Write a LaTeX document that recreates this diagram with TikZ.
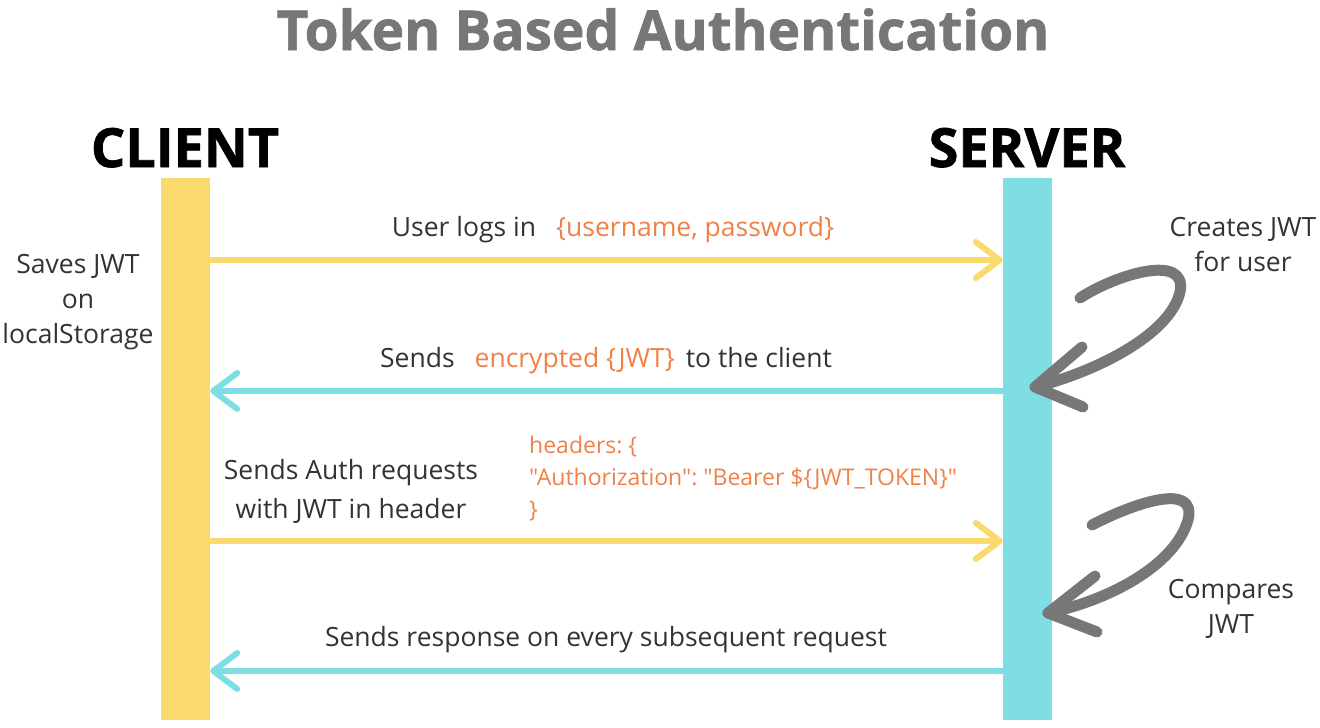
\documentclass[tikz,border=0pt]{standalone}
\usepackage{fontspec}
\setmainfont{Open Sans}
\newfontfamily\codefont{Open Sans}[Ligatures=TeXOff]
\newfontfamily\heavyfont{Open Sans}[BoldFeatures={FakeBold=1.2}]
\usetikzlibrary{arrows.meta}
\definecolor{cyel}{HTML}{FADA6E}
\definecolor{ccyan}{HTML}{7FDEE4}
\definecolor{corange}{HTML}{EF8148}
\definecolor{ctitle}{HTML}{777777}
\definecolor{ctext}{HTML}{333333}
\definecolor{ccurve}{HTML}{777777}
\begin{document}
\begin{tikzpicture}[x=1pt,y=-1pt,
  bar/.style={minimum width=49pt, minimum height=542pt, inner sep=0pt, draw=none, anchor=north},
  msg/.style={line width=6pt, -{Straight Barb[length=24pt,width=36pt,round]}},
  lbl/.style={font=\fontsize{26.5}{35}\selectfont, text=ctext, inner sep=0pt, align=center},
  code/.style={font=\codefont\frenchspacing\fontsize{23}{32}\selectfont, text=corange, inner sep=0pt, align=left},
  head/.style={font=\heavyfont\fontsize{54}{60}\selectfont\bfseries, text=black, inner sep=0pt},
  curve/.style={line width=11pt, draw=ccurve, line cap=round, line join=round}]
\path[use as bounding box] (0,0) rectangle (1320,728);
% title
\node[font=\heavyfont\fontsize{55}{60}\selectfont\bfseries, text=ctitle, inner sep=0pt, anchor=base] (title) at (663,50) {Token Based Authentication};
% headers
\node[head, anchor=base] (client) at (185,167) {CLIENT};
\node[head, anchor=base] (server) at (1027,167) {SERVER};
% bars
\node[fill=cyel, bar] (cbar) at (185.5,178) {};
\node[fill=ccyan, bar] (sbar) at (1027.5,178) {};
% rows
\coordinate (r1) at (0,260);
\coordinate (r2) at (0,391);
\coordinate (r3) at (0,541);
\coordinate (r4) at (0,671);
\draw[msg, cyel] (cbar.east |- r1) -- (sbar.west |- r1);
\draw[msg, ccyan] (sbar.west |- r2) -- (cbar.east |- r2);
\draw[msg, cyel] (cbar.east |- r3) -- (sbar.west |- r3);
\draw[msg, ccyan] (sbar.west |- r4) -- (cbar.east |- r4);
% labels
\node[lbl, anchor=base] (l1) at (613,236) {User logs in\hspace{20pt}{\color{corange}\{username, password\}}};
\node[lbl, anchor=base] (l2) at (606,367) {Sends\hspace{20pt}{\color{corange}encrypted \{JWT\}}\hspace{4pt} to the client};
\node[lbl, font=\fontsize{26.5}{39}\selectfont] (l3) at (351,491) {Sends Auth requests\\with JWT in header};
\node[code, anchor=north west] (l3c) at (529,436) {headers: \{\\"Authorization": "Bearer \$\{JWT\_TOKEN\}"\\\}};
\node[lbl, anchor=base] (l4) at (606,646) {Sends response on every subsequent request};
\node[lbl] (save) at (78,302) {Saves JWT\\on\\localStorage};
\node[lbl] (create) at (1243,245) {Creates JWT\\for user};
\node[lbl] (cmp) at (1231,609) {Compares\\JWT};
% curved arrows
\draw[curve] (1080,298) .. controls (1115,275) and (1188,252) .. (1180,292)
  .. controls (1170,335) and (1095,372) .. (1035,387);
\draw[curve] (1082,347) -- (1035,387) -- (1083,407);
\draw[curve] (1092,525) .. controls (1130,505) and (1198,480) .. (1188,520)
  .. controls (1175,565) and (1110,600) .. (1048,613);
\draw[curve] (1095,576) -- (1048,613) -- (1097,632);
\end{tikzpicture}
\end{document}
